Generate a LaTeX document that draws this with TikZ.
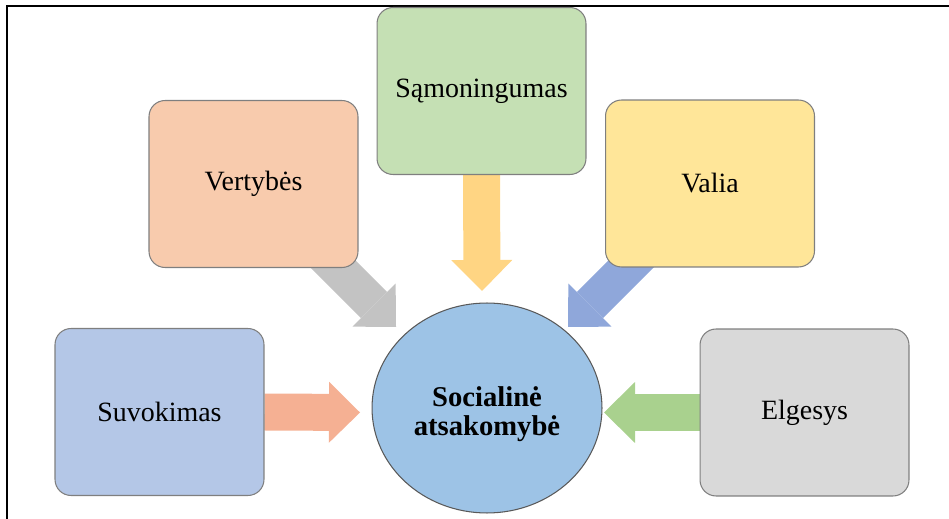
\documentclass[tikz,border=0pt]{standalone}
\usepackage{fontspec}
\setmainfont{Liberation Serif}
\usetikzlibrary{arrows.meta,shapes.geometric,backgrounds}

\definecolor{boxline}{HTML}{7F7F7F}
\definecolor{socline}{HTML}{595959}
\definecolor{socfill}{HTML}{9DC3E6}
\definecolor{suvfill}{HTML}{B4C7E7}
\definecolor{elgfill}{HTML}{D9D9D9}
\definecolor{vertfill}{HTML}{F8CBAD}
\definecolor{samfill}{HTML}{C5E0B4}
\definecolor{valfill}{HTML}{FFE699}
\definecolor{suvarrow}{HTML}{F5B093}
\definecolor{elgarrow}{HTML}{A9D18E}
\definecolor{vertarrow}{HTML}{C3C3C3}
\definecolor{samarrow}{HTML}{FFD583}
\definecolor{valarrow}{HTML}{8FA7DA}

\begin{document}
\begin{tikzpicture}[x=0.02cm,y=-0.02cm,
    box/.style={draw=boxline, line width=0.6pt, rounded corners=0.32cm,
        minimum width=4.18cm, minimum height=3.34cm, inner sep=0pt,
        font=\rmfamily\fontsize{15.9}{19}\selectfont, align=center},
    flow/.style={line width=0.74cm,
        -{Triangle[width=1.22cm,length=0.62cm,line width=0pt]}}]
    \useasboundingbox (0,0) rectangle (949,519);
    \draw[line width=1.2pt] (949,6) -- (7,6) -- (7,519);

    \node[box, fill=suvfill] (suv) at (159.5,412) {Suvokimas};
    \node[box, fill=elgfill] (elg) at (804.5,412.5) {Elgesys};
    \node[box, fill=vertfill] (vert) at (253.5,184) {Vertybės};
    \node[box, fill=samfill] (sam) at (481.5,91) {Sąmoningumas};
    \node[box, fill=valfill] (val) at (710,183.5) {Valia};
    \node[ellipse, draw=socline, line width=0.6pt, fill=socfill,
        minimum width=4.6cm, minimum height=4.2cm, inner sep=0pt,
        font=\rmfamily\bfseries\fontsize{16.3}{16.5}\selectfont]
        (soc) at (487,408) {\raisebox{-0.14cm}[\height][\depth]{\begin{tabular}{@{}c@{}}Socialinė\\atsakomybė\end{tabular}}};

    \coordinate (suvtip) at (360,412.5);
    \coordinate (elgtip) at (604,412.5);
    \coordinate (samtip) at (482,291);
    \coordinate (vertout) at (318,249);
    \coordinate (verttip) at (396,327);
    \coordinate (valout) at (648,247);
    \coordinate (valtip) at (568,327);

    \begin{scope}[on background layer]
    \draw[flow, draw=suvarrow] (suv.east) -- (suvtip);
    \draw[flow, draw=elgarrow] (elg.west) -- (elgtip);
    \draw[flow, draw=samarrow] (sam.south) -- (samtip);
    \draw[flow, draw=vertarrow] (vertout) -- (verttip);
    \draw[flow, draw=valarrow] (valout) -- (valtip);
    \end{scope}
\end{tikzpicture}
\end{document}
